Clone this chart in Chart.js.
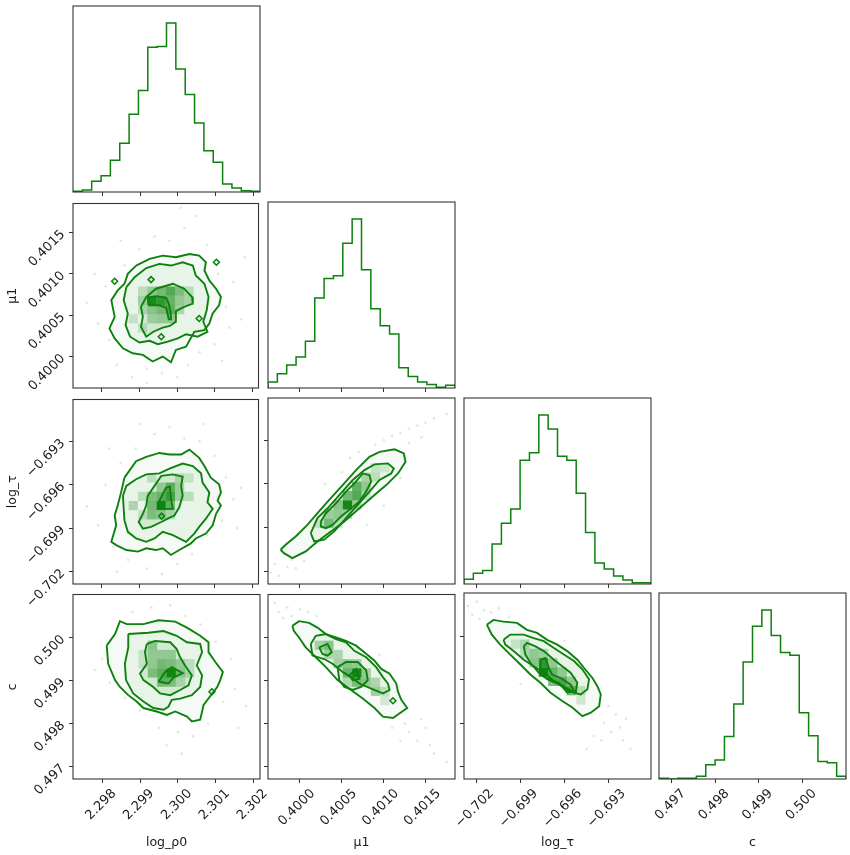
<!DOCTYPE html>
<html>
<head>
<meta charset="utf-8">
<script src="https://cdn.jsdelivr.net/npm/chart.js@4.4.1/dist/chart.umd.min.js"></script>
<style>
  body { margin: 0; background: #fff; width: 850px; height: 855px; position: relative; overflow: hidden; }
  canvas { position: absolute; }
</style>
</head>
<body>
<script>
// axis ranges and ticks
const rhoRange = [2.29723, 2.30217];
const muRange = [0.39962, 0.40185];
const tauRange = [-0.70287, -0.69010];
const cRange = [0.49671, 0.50100];
const rhoTicks = [2.298, 2.299, 2.300, 2.301, 2.302];
const muTicks = [0.4000, 0.4005, 0.4010, 0.4015];
const tauTicks = [-0.702, -0.699, -0.696, -0.693];
const cTicks = [0.497, 0.498, 0.499, 0.500];

// 1D histograms, 20 bins over each range
const rhoCounts = [1, 3, 16, 24, 47, 72, 115, 150, 214, 215, 250, 182, 144, 102, 61, 44, 12, 6, 2, 1];
const muCounts = [9, 21, 34, 46, 69, 133, 162, 166, 214, 250, 175, 117, 92, 80, 30, 17, 9, 5, 1, 4];
const tauCounts = [7, 16, 20, 59, 90, 111, 183, 194, 250, 229, 189, 183, 134, 76, 31, 22, 12, 6, 2, 2];
const cCounts = [1, 0, 1, 1, 4, 21, 28, 63, 111, 173, 226, 250, 212, 187, 183, 98, 64, 26, 24, 4];

// log_rho0 vs mu1
const rhoMuOuter = [[2.29891,0.40110],[2.29927,0.40118],[2.29962,0.40122],[2.29997,0.40120],[2.30033,0.40124],[2.30059,0.40122],[2.30077,0.40114],[2.30073,0.40104],[2.30086,0.40092],[2.30104,0.40082],[2.30117,0.40072],[2.30112,0.40062],[2.30095,0.40052],[2.30086,0.40040],[2.30073,0.40032],[2.30046,0.40030],[2.30024,0.40012],[2.29997,0.40008],[2.29984,0.39993],[2.29962,0.40000],[2.29935,0.39994],[2.29909,0.40002],[2.29882,0.40004],[2.29856,0.40010],[2.29834,0.40022],[2.29820,0.40034],[2.29834,0.40048],[2.29825,0.40068],[2.29842,0.40080],[2.29860,0.40088],[2.29869,0.40100]];
const rhoMuMiddle = [[2.29865,0.40084],[2.29887,0.40096],[2.29918,0.40107],[2.29953,0.40112],[2.29984,0.40110],[2.30015,0.40114],[2.30042,0.40110],[2.30050,0.40098],[2.30073,0.40088],[2.30084,0.40072],[2.30079,0.40056],[2.30070,0.40042],[2.30081,0.40030],[2.30055,0.40024],[2.30024,0.40027],[2.30002,0.40022],[2.29975,0.40018],[2.29949,0.40015],[2.29927,0.40019],[2.29900,0.40017],[2.29875,0.40024],[2.29863,0.40038],[2.29869,0.40052],[2.29858,0.40068]];
const rhoMuInner = [[2.29918,0.40072],[2.29944,0.40082],[2.29989,0.40088],[2.30019,0.40082],[2.30040,0.40072],[2.30042,0.40064],[2.30019,0.40060],[2.29997,0.40055],[2.29997,0.40042],[2.29981,0.40037],[2.29962,0.40035],[2.29937,0.40030],[2.29918,0.40024],[2.29904,0.40036],[2.29909,0.40048],[2.29904,0.40060]];
const rhoMuCore = [[2.29922,0.40071],[2.29944,0.40073],[2.29971,0.40071],[2.29978,0.40064],[2.29983,0.40054],[2.29984,0.40045],[2.29978,0.40045],[2.29971,0.40059],[2.29953,0.40062],[2.29926,0.40062]];
const rhoMuIslands = [[2.29834,0.40091],[2.29931,0.40093],[2.30105,0.40114],[2.29958,0.40024],[2.30059,0.40046]];
const rhoMuCells = [[8,9,0.85],[9,9,0.7],[10,10,0.6],[9,10,0.45],[10,9,0.5],[11,10,0.4],[8,10,0.35],[10,8,0.55],[9,8,0.45],[8,8,0.35],[11,9,0.3],[7,9,0.3],[9,7,0.3],[10,7,0.3],[8,7,0.25],[11,8,0.25],[12,10,0.2],[7,8,0.2],[7,10,0.2],[12,9,0.2],[6,7,0.15],[7,6,0.15]];
const rhoMuPoints = [[2.2976,0.40065],[2.2979,0.40040],[2.2981,0.40085],[2.2982,0.40020],[2.2984,0.39990],[2.2986,0.40110],[2.2988,0.39975],[2.2990,0.40130],[2.2992,0.39985],[2.2994,0.40145],[2.2996,0.39980],[2.2998,0.40140],[2.3000,0.39975],[2.3002,0.40155],[2.3003,0.39990],[2.3005,0.40170],[2.3006,0.40005],[2.3008,0.40135],[2.3010,0.40015],[2.3011,0.40100],[2.3013,0.40060],[2.3014,0.40035],[2.3015,0.40090],[2.3018,0.40120],[2.3017,0.40045],[2.2985,0.40140],[2.2978,0.40100],[2.3001,0.40180],[2.3012,0.39995],[2.2992,0.39968]];

// log_rho0 vs log_tau
const rhoTauOuter = [[2.29860,-0.69551],[2.29891,-0.69437],[2.29918,-0.69407],[2.29953,-0.69380],[2.29980,-0.69391],[2.30011,-0.69391],[2.30033,-0.69357],[2.30059,-0.69414],[2.30073,-0.69471],[2.30090,-0.69551],[2.30112,-0.69596],[2.30117,-0.69653],[2.30108,-0.69710],[2.30117,-0.69744],[2.30104,-0.69801],[2.30095,-0.69881],[2.30077,-0.69938],[2.30050,-0.69972],[2.30037,-0.70006],[2.30006,-0.70052],[2.29984,-0.70086],[2.29962,-0.70040],[2.29944,-0.70052],[2.29918,-0.70040],[2.29896,-0.70063],[2.29865,-0.70052],[2.29838,-0.70018],[2.29825,-0.69995],[2.29838,-0.69881],[2.29834,-0.69813],[2.29842,-0.69744],[2.29851,-0.69653]];
const rhoTauMiddle = [[2.29856,-0.69676],[2.29865,-0.69608],[2.29891,-0.69562],[2.29918,-0.69528],[2.29953,-0.69521],[2.29980,-0.69489],[2.30015,-0.69453],[2.30042,-0.69471],[2.30064,-0.69521],[2.30068,-0.69585],[2.30086,-0.69653],[2.30081,-0.69721],[2.30095,-0.69767],[2.30077,-0.69835],[2.30059,-0.69892],[2.30046,-0.69938],[2.30024,-0.69995],[2.29989,-0.69949],[2.29962,-0.69926],[2.29940,-0.69972],[2.29918,-0.69995],[2.29891,-0.69972],[2.29869,-0.69926],[2.29860,-0.69847],[2.29858,-0.69767]];
const rhoTauInner = [[2.29922,-0.69676],[2.29940,-0.69608],[2.29958,-0.69539],[2.29989,-0.69528],[2.30015,-0.69544],[2.30011,-0.69608],[2.30015,-0.69676],[2.30006,-0.69756],[2.29993,-0.69813],[2.29975,-0.69835],[2.29958,-0.69858],[2.29931,-0.69892],[2.29909,-0.69904],[2.29898,-0.69858],[2.29909,-0.69801],[2.29918,-0.69744]];
const rhoTauCore = [[2.29953,-0.69710],[2.29971,-0.69619],[2.29981,-0.69612],[2.29984,-0.69699],[2.29989,-0.69767],[2.29949,-0.69767]];
const rhoTauIslands = [[2.29959,-0.69817]];
const rhoTauCells = [[9,8,0.9],[10,9,0.65],[10,10,0.55],[9,9,0.5],[8,9,0.4],[8,8,0.45],[8,7,0.4],[9,7,0.35],[10,8,0.4],[9,10,0.3],[11,9,0.25],[11,10,0.25],[6,8,0.25],[8,11,0.2],[12,9,0.2],[12,11,0.15],[7,9,0.2],[7,7,0.15],[10,7,0.2],[11,11,0.2]];
const rhoTauPoints = [[2.2976,-0.6975],[2.2979,-0.6988],[2.2981,-0.6960],[2.2983,-0.7003],[2.2985,-0.6945],[2.2987,-0.7012],[2.2989,-0.6935],[2.2992,-0.7018],[2.2994,-0.6925],[2.2996,-0.7022],[2.2998,-0.6920],[2.3000,-0.7015],[2.3002,-0.6928],[2.3004,-0.7008],[2.3006,-0.6930],[2.3008,-0.6995],[2.3010,-0.6940],[2.3012,-0.6985],[2.3013,-0.6955],[2.3015,-0.6970],[2.3016,-0.6990],[2.3017,-0.6962],[2.2982,-0.6935],[2.2990,-0.6918],[2.3007,-0.6918],[2.2984,-0.7020]];

// log_rho0 vs c
const rhoCOuter = [[2.29812,0.49981],[2.29834,0.50008],[2.29847,0.50038],[2.29865,0.50031],[2.29909,0.50031],[2.29949,0.50040],[2.29993,0.50037],[2.30024,0.50023],[2.30059,0.50004],[2.30081,0.49989],[2.30081,0.49966],[2.30099,0.49943],[2.30119,0.49920],[2.30112,0.49901],[2.30104,0.49885],[2.30068,0.49843],[2.30059,0.49809],[2.30037,0.49805],[2.30024,0.49816],[2.29993,0.49828],[2.29971,0.49820],[2.29944,0.49828],[2.29909,0.49836],[2.29891,0.49851],[2.29869,0.49866],[2.29847,0.49885],[2.29834,0.49901],[2.29816,0.49939]];
const rhoCMiddle = [[2.29869,0.50008],[2.29922,0.50011],[2.29962,0.50015],[2.29997,0.50004],[2.30024,0.49989],[2.30059,0.49985],[2.30064,0.49966],[2.30050,0.49935],[2.30064,0.49912],[2.30059,0.49885],[2.30037,0.49866],[2.30006,0.49858],[2.29984,0.49855],[2.29975,0.49839],[2.29962,0.49832],[2.29935,0.49836],[2.29909,0.49851],[2.29882,0.49870],[2.29863,0.49901],[2.29860,0.49939],[2.29869,0.49977]];
const rhoCInner = [[2.29918,0.49985],[2.29940,0.49992],[2.29980,0.49989],[2.29997,0.49973],[2.30006,0.49954],[2.30019,0.49935],[2.30037,0.49912],[2.30028,0.49889],[2.30006,0.49878],[2.29980,0.49866],[2.29953,0.49870],[2.29935,0.49885],[2.29909,0.49901],[2.29900,0.49916],[2.29918,0.49939],[2.29913,0.49966]];
const rhoCCore = [[2.29949,0.49897],[2.29966,0.49920],[2.29984,0.49931],[2.30013,0.49917],[2.29989,0.49907],[2.29975,0.49893]];
const rhoCIslands = [[2.30090,0.49874]];
const rhoCCells = [[10,11,0.9],[9,11,0.55],[9,12,0.45],[10,12,0.4],[8,11,0.4],[9,10,0.45],[10,10,0.4],[8,14,0.35],[8,13,0.3],[10,13,0.3],[11,12,0.3],[11,11,0.35],[8,12,0.3],[12,12,0.2],[12,11,0.2],[9,13,0.3],[11,10,0.2],[7,12,0.15],[7,13,0.15]];
const rhoCPoints = [[2.2978,0.49925],[2.2980,0.49950],[2.2982,0.49895],[2.2984,0.50020],[2.2986,0.49860],[2.2988,0.50060],[2.2990,0.49830],[2.2993,0.50070],[2.2995,0.49790],[2.2998,0.50075],[2.3000,0.49780],[2.3002,0.50050],[2.3004,0.49770],[2.3006,0.50030],[2.3008,0.49800],[2.3010,0.49990],[2.3012,0.49850],[2.3014,0.49950],[2.3015,0.49880],[2.3018,0.49840],[2.2997,0.49750],[2.3001,0.49730],[2.3016,0.49790],[2.2985,0.49940]];

// mu1 vs log_tau
const muTauOuter = [[0.39977,-0.70052],[0.39983,-0.70018],[0.39995,-0.69961],[0.40009,-0.69881],[0.40021,-0.69801],[0.40035,-0.69710],[0.40051,-0.69608],[0.40067,-0.69505],[0.40083,-0.69414],[0.40095,-0.69380],[0.40113,-0.69362],[0.40124,-0.69391],[0.40126,-0.69448],[0.40117,-0.69528],[0.40103,-0.69608],[0.40089,-0.69676],[0.40071,-0.69767],[0.40053,-0.69858],[0.40037,-0.69926],[0.40021,-0.69995],[0.40007,-0.70063],[0.39991,-0.70109],[0.39981,-0.70075]];
const muTauMiddle = [[0.40013,-0.69938],[0.40021,-0.69835],[0.40033,-0.69767],[0.40047,-0.69676],[0.40063,-0.69573],[0.40077,-0.69505],[0.40089,-0.69466],[0.40105,-0.69459],[0.40112,-0.69494],[0.40109,-0.69528],[0.40095,-0.69573],[0.40083,-0.69653],[0.40069,-0.69744],[0.40055,-0.69835],[0.40041,-0.69926],[0.40029,-0.69983],[0.40017,-0.69995]];
const muTauInner = [[0.40025,-0.69858],[0.40031,-0.69801],[0.40043,-0.69733],[0.40055,-0.69653],[0.40065,-0.69596],[0.40075,-0.69528],[0.40083,-0.69539],[0.40085,-0.69585],[0.40079,-0.69653],[0.40071,-0.69721],[0.40059,-0.69778],[0.40049,-0.69824],[0.40039,-0.69881],[0.40031,-0.69904],[0.40025,-0.69892]];
const muTauCells = [[8,8,0.9],[9,9,0.6],[9,10,0.55],[8,9,0.45],[6,6,0.45],[7,8,0.35],[7,7,0.3],[8,7,0.25],[10,10,0.3],[10,11,0.2],[11,11,0.2],[9,8,0.3],[6,7,0.25],[7,6,0.2],[5,6,0.15],[11,12,0.15],[12,12,0.12],[10,9,0.2]];
const muTauPoints = [[0.39965,-0.70210],[0.39970,-0.70150],[0.39975,-0.70230],[0.39985,-0.70170],[0.39990,-0.70120],[0.39995,-0.70180],[0.40000,-0.70070],[0.40005,-0.70130],[0.40060,-0.69420],[0.40070,-0.69380],[0.40090,-0.69330],[0.40100,-0.69300],[0.40110,-0.69270],[0.40120,-0.69250],[0.40130,-0.69220],[0.40140,-0.69200],[0.40150,-0.69180],[0.40160,-0.69150],[0.40175,-0.69120],[0.40130,-0.69320],[0.40145,-0.69280],[0.40080,-0.69880],[0.40100,-0.69750],[0.40030,-0.69600],[0.40050,-0.69520],[0.40120,-0.69560]];

// mu1 vs c
const muCOuter = [[0.39991,0.50027],[0.39999,0.50038],[0.40011,0.50034],[0.40021,0.50023],[0.40031,0.50008],[0.40043,0.50000],[0.40055,0.49992],[0.40067,0.49981],[0.40079,0.49962],[0.40089,0.49946],[0.40097,0.49927],[0.40107,0.49916],[0.40115,0.49893],[0.40117,0.49874],[0.40121,0.49855],[0.40128,0.49836],[0.40111,0.49813],[0.40099,0.49816],[0.40089,0.49836],[0.40075,0.49858],[0.40059,0.49881],[0.40045,0.49901],[0.40031,0.49931],[0.40019,0.49954],[0.40007,0.49977],[0.39999,0.50000],[0.39993,0.50015]];
const muCMiddle = [[0.40013,0.49985],[0.40019,0.50004],[0.40031,0.50008],[0.40043,0.49996],[0.40055,0.49989],[0.40065,0.49969],[0.40079,0.49954],[0.40091,0.49931],[0.40099,0.49908],[0.40105,0.49893],[0.40107,0.49878],[0.40099,0.49870],[0.40085,0.49881],[0.40071,0.49893],[0.40061,0.49908],[0.40051,0.49920],[0.40039,0.49939],[0.40029,0.49950],[0.40015,0.49958]];
const muCInnerA = [[0.40023,0.49977],[0.40033,0.49985],[0.40038,0.49966],[0.40033,0.49958],[0.40027,0.49962]];
const muCInnerB = [[0.40045,0.49931],[0.40055,0.49943],[0.40069,0.49943],[0.40079,0.49924],[0.40081,0.49901],[0.40073,0.49885],[0.40063,0.49878],[0.40053,0.49885],[0.40047,0.49901]];
const muCCore = [[0.40059,0.49912],[0.40067,0.49927],[0.40071,0.49904],[0.40063,0.49901]];
const muCIslands = [[0.40111,0.49853]];
const muCCells = [[9,11,0.9],[8,11,0.5],[9,10,0.45],[10,10,0.35],[8,12,0.35],[6,14,0.4],[5,14,0.3],[7,12,0.3],[7,13,0.25],[6,13,0.25],[11,9,0.35],[10,11,0.3],[9,12,0.3],[12,9,0.2],[11,10,0.25],[8,10,0.2],[12,8,0.15]];
const muCPoints = [[0.39970,0.50080],[0.39975,0.50060],[0.39980,0.50045],[0.39985,0.50070],[0.39990,0.50050],[0.40000,0.50065],[0.40010,0.50060],[0.40020,0.50050],[0.40125,0.49800],[0.40130,0.49780],[0.40140,0.49760],[0.40145,0.49810],[0.40150,0.49790],[0.40155,0.49750],[0.40160,0.49730],[0.40175,0.49710],[0.40120,0.49760],[0.40110,0.49790],[0.40040,0.49930],[0.40060,0.49970],[0.40095,0.49960],[0.40005,0.49980],[0.40080,0.49860],[0.39995,0.50010]];

// log_tau vs c
const tauCOuter = [[-0.70131,0.50027],[-0.70086,0.50038],[-0.70017,0.50034],[-0.69925,0.50031],[-0.69857,0.50015],[-0.69788,0.50008],[-0.69719,0.49992],[-0.69650,0.49981],[-0.69582,0.49966],[-0.69513,0.49946],[-0.69467,0.49927],[-0.69410,0.49904],[-0.69376,0.49885],[-0.69353,0.49866],[-0.69364,0.49839],[-0.69421,0.49824],[-0.69479,0.49816],[-0.69547,0.49836],[-0.69616,0.49851],[-0.69696,0.49870],[-0.69765,0.49893],[-0.69834,0.49912],[-0.69902,0.49935],[-0.69971,0.49958],[-0.70040,0.49981],[-0.70097,0.50004]];
const tauCMiddle = [[-0.70017,0.49992],[-0.69971,0.50004],[-0.69879,0.50004],[-0.69811,0.49996],[-0.69742,0.49989],[-0.69673,0.49973],[-0.69605,0.49958],[-0.69536,0.49943],[-0.69479,0.49924],[-0.69433,0.49901],[-0.69444,0.49878],[-0.69490,0.49866],[-0.69536,0.49870],[-0.69605,0.49885],[-0.69673,0.49897],[-0.69742,0.49916],[-0.69811,0.49931],[-0.69879,0.49946],[-0.69948,0.49966],[-0.70005,0.49981]];
const tauCInner = [[-0.69879,0.49977],[-0.69857,0.49985],[-0.69799,0.49977],[-0.69742,0.49966],[-0.69673,0.49946],[-0.69616,0.49931],[-0.69559,0.49916],[-0.69513,0.49893],[-0.69524,0.49870],[-0.69570,0.49874],[-0.69639,0.49889],[-0.69719,0.49901],[-0.69776,0.49916],[-0.69834,0.49939],[-0.69868,0.49958]];
const tauCCore = [[-0.69765,0.49946],[-0.69731,0.49950],[-0.69708,0.49927],[-0.69685,0.49912],[-0.69627,0.49904],[-0.69559,0.49889],[-0.69536,0.49874],[-0.69582,0.49870],[-0.69639,0.49893],[-0.69708,0.49901],[-0.69765,0.49912]];
const tauCCells = [[8,11,0.9],[8,12,0.7],[9,11,0.5],[9,10,0.5],[10,10,0.55],[11,9,0.55],[7,12,0.35],[7,13,0.3],[6,14,0.25],[10,11,0.3],[9,12,0.3],[11,10,0.3],[12,9,0.2],[6,13,0.2],[5,14,0.15],[12,8,0.15],[8,13,0.25]];
const tauCPoints = [[-0.70260,0.50070],[-0.70230,0.50050],[-0.70200,0.50080],[-0.70180,0.50040],[-0.70150,0.50060],[-0.70100,0.50055],[-0.70050,0.50065],[-0.69980,0.50045],[-0.69330,0.49800],[-0.69300,0.49840],[-0.69280,0.49780],[-0.69250,0.49820],[-0.69220,0.49790],[-0.69200,0.49760],[-0.69180,0.49810],[-0.69350,0.49760],[-0.69400,0.49770],[-0.69150,0.49740],[-0.69450,0.49740],[-0.69800,0.49980],[-0.69650,0.49860],[-0.69900,0.49890],[-0.69600,0.49990],[-0.70300,0.50020]];

// layout
const colLeft = [73, 268, 464, 659];
const rowTop = [6, 202, 398, 593];
const boxW = 187, boxH = 186;
const GREEN = '#0d800d';
const TICK_FONT = { family: 'DejaVu Sans', size: 13 };
const TITLE_FONT = { family: 'DejaVu Sans', size: 12.5 };
const minus = v => (v < 0 ? '\u2212' : '') + Math.abs(v).toFixed(3);

const vars = [
  { title: 'log_\u03c10', range: rhoRange, ticks: rhoTicks, counts: rhoCounts, fmt: v => v.toFixed(3), shift: 12 },
  { title: '\u03bc1', range: muRange, ticks: muTicks, counts: muCounts, fmt: v => v.toFixed(4), shift: 13 },
  { title: 'log_\u03c4', range: tauRange, ticks: tauTicks, counts: tauCounts, fmt: minus, shift: 15 },
  { title: 'c', range: cRange, ticks: cTicks, counts: cCounts, fmt: v => v.toFixed(3), shift: 12 }
];

const pairs = [
  { r: 1, c: 0, outer: rhoMuOuter, middle: rhoMuMiddle, inner: [rhoMuInner], core: [rhoMuCore], islands: rhoMuIslands, points: rhoMuPoints, cells: rhoMuCells },
  { r: 2, c: 0, outer: rhoTauOuter, middle: rhoTauMiddle, inner: [rhoTauInner], core: [rhoTauCore], islands: rhoTauIslands, points: rhoTauPoints, cells: rhoTauCells },
  { r: 3, c: 0, outer: rhoCOuter, middle: rhoCMiddle, inner: [rhoCInner], core: [rhoCCore], islands: rhoCIslands, points: rhoCPoints, cells: rhoCCells },
  { r: 2, c: 1, outer: muTauOuter, middle: muTauMiddle, inner: [muTauInner], core: [], islands: [], points: muTauPoints, cells: muTauCells },
  { r: 3, c: 1, outer: muCOuter, middle: muCMiddle, inner: [muCInnerA, muCInnerB], core: [muCCore], islands: muCIslands, points: muCPoints, cells: muCCells },
  { r: 3, c: 2, outer: tauCOuter, middle: tauCMiddle, inner: [tauCInner], core: [tauCCore], islands: [], points: tauCPoints, cells: tauCCells }
];

const framePlugin = {
  id: 'frame',
  afterDraw(chart) {
    const { ctx, chartArea: a } = chart;
    ctx.save();
    ctx.strokeStyle = '#333';
    ctx.lineWidth = 1.1;
    ctx.strokeRect(a.left, a.top, a.right - a.left, a.bottom - a.top);
    ctx.restore();
  }
};

// 2D histogram cells, drawn right after the outer contour fill
const cellPlugin = {
  id: 'cells',
  afterDatasetDraw(chart, args) {
    const ds = chart.data.datasets[args.index];
    if (!ds.cells) return;
    const xs = chart.scales.x, ys = chart.scales.y;
    const { ctx, chartArea: a } = chart;
    const dx = (xs.max - xs.min) / 20, dy = (ys.max - ys.min) / 20;
    ctx.save();
    ctx.beginPath();
    ctx.rect(a.left, a.top, a.right - a.left, a.bottom - a.top);
    ctx.clip();
    ds.cells.forEach(([i, j, v]) => {
      const x0 = xs.getPixelForValue(xs.min + i * dx), x1 = xs.getPixelForValue(xs.min + (i + 1) * dx);
      const y0 = ys.getPixelForValue(ys.min + j * dy), y1 = ys.getPixelForValue(ys.min + (j + 1) * dy);
      ctx.fillStyle = `rgba(0,128,0,${v})`;
      ctx.fillRect(x0, y1, x1 - x0, y0 - y1);
    });
    ctx.restore();
  }
};

function makeCanvas(r, c) {
  const leftLabels = c === 0 && r > 0;
  const L = leftLabels ? colLeft[0] : 6;
  const B = r === 3 ? 855 - rowTop[3] - boxH : (leftLabels ? 36 : 6);
  const T = 3, R = r === 3 ? 26 : 3;
  const cv = document.createElement('canvas');
  const w = L + boxW + R, h = T + boxH + B;
  cv.width = w; cv.height = h;
  cv.style.width = w + 'px'; cv.style.height = h + 'px';
  cv.style.left = (colLeft[c] - L) + 'px';
  cv.style.top = (rowTop[r] - T) + 'px';
  document.body.appendChild(cv);
  return { cv, L, B, T, R };
}

function axis(v, dir, size, labels, title) {
  return {
    type: 'linear', position: dir === 'x' ? 'bottom' : 'left',
    min: v.range[0], max: v.range[1],
    afterBuildTicks: s => { s.ticks = v.ticks.map(t => ({ value: t })); },
    afterFit: s => {
      if (dir === 'x') { s.height = size; s.paddingLeft = 0; s.paddingRight = 0; }
      else { s.width = size; s.paddingTop = 0; s.paddingBottom = 0; }
    },
    grid: { display: true, drawOnChartArea: false, drawTicks: true, tickLength: 4, tickColor: '#333' },
    border: { display: false },
    ticks: {
      display: labels, autoSkip: false, minRotation: 45, maxRotation: 45,
      font: TICK_FONT, color: '#1a1a1a', padding: dir === 'x' ? 3 : 6,
      labelOffset: dir === 'x' ? v.shift : 0,
      callback: val => v.fmt(val)
    },
    title: { display: !!title, text: title || '', font: TITLE_FONT, color: '#1a1a1a', padding: { top: 5, bottom: 5 } }
  };
}

function baseOptions(T, R) {
  return {
    responsive: false, animation: false,
    layout: { padding: { top: T, right: R, left: 0, bottom: 0 } },
    plugins: { legend: { display: false }, tooltip: { enabled: false } }
  };
}

function histChart(k) {
  const v = vars[k];
  const { cv, L, B, T, R } = makeCanvas(k, k);
  const lo = v.range[0], hi = v.range[1], n = v.counts.length;
  const pts = [{ x: lo, y: 0 }];
  v.counts.forEach((cnt, i) => pts.push({ x: lo + (hi - lo) * i / n, y: cnt }));
  pts.push({ x: hi, y: v.counts[n - 1] }, { x: hi, y: 0 });
  const opts = baseOptions(T, R);
  opts.scales = {
    x: axis(v, 'x', B, k === 3, k === 3 ? v.title : ''),
    y: {
      type: 'linear', min: 0, max: Math.max(...v.counts) * 1.1,
      afterFit: s => { s.width = L; s.paddingTop = 0; s.paddingBottom = 0; },
      grid: { display: false }, border: { display: false }, ticks: { display: false }
    }
  };
  new Chart(cv, {
    type: 'line',
    data: { datasets: [{ data: pts, stepped: 'before', borderColor: GREEN, borderWidth: 1.5, pointRadius: 0, fill: false }] },
    options: opts,
    plugins: [framePlugin]
  });
}

const toXY = list => list.map(([x, y]) => ({ x, y }));
const contour = (poly, fillColor, order) => ({
  data: toXY(poly.concat([poly[0]])), showLine: true, pointRadius: 0, pointHoverRadius: 0,
  borderColor: GREEN, borderWidth: 1.9, fill: 'shape', backgroundColor: fillColor, order
});

function pairChart(p) {
  const vx = vars[p.c], vy = vars[p.r];
  const { cv, L, B, T, R } = makeCanvas(p.r, p.c);
  const datasets = [];
  datasets.push({ data: toXY(p.points), pointRadius: 1.3, pointHoverRadius: 0, backgroundColor: 'rgba(0,128,0,0.15)', borderWidth: 0, order: 6 });
  const outer = contour(p.outer, '#f6faf6', 5);
  outer.cells = p.cells;
  datasets.push(outer);
  datasets.push(contour(p.middle, 'rgba(0,128,0,0.05)', 4));
  p.inner.forEach(poly => datasets.push(contour(poly, 'rgba(0,128,0,0.10)', 3)));
  p.core.forEach(poly => datasets.push(contour(poly, 'rgba(0,128,0,0.22)', 2)));
  if (p.islands.length) {
    datasets.push({ data: toXY(p.islands), pointStyle: 'rectRot', pointRadius: 3, pointHoverRadius: 0,
      borderColor: GREEN, borderWidth: 1.5, backgroundColor: 'rgba(0,128,0,0.08)', order: 1 });
  }
  const opts = baseOptions(T, R);
  opts.scales = {
    x: axis(vx, 'x', B, p.r === 3, p.r === 3 ? vx.title : ''),
    y: axis(vy, 'y', L, p.c === 0, p.c === 0 ? vy.title : '')
  };
  new Chart(cv, { type: 'scatter', data: { datasets }, options: opts, plugins: [cellPlugin, framePlugin] });
}

[0, 1, 2, 3].forEach(histChart);
pairs.forEach(pairChart);
</script>
</body>
</html>
